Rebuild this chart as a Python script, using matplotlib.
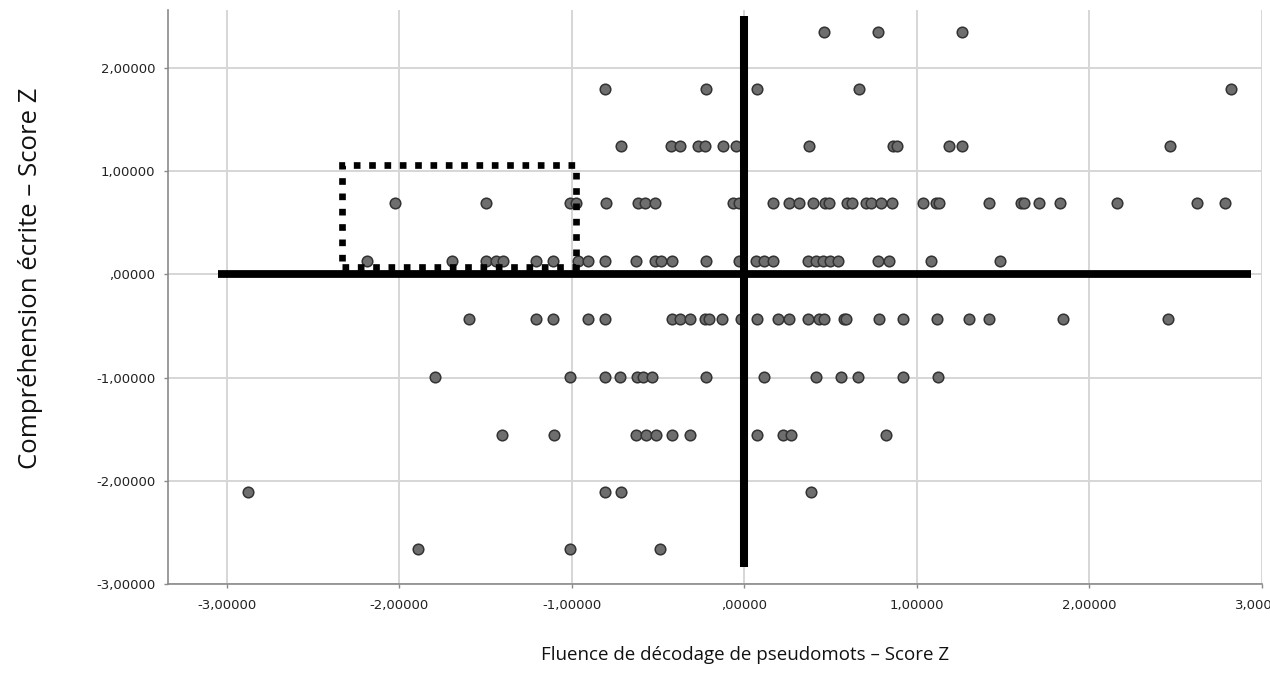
import matplotlib
matplotlib.use("Agg")
import matplotlib.pyplot as plt
from matplotlib.ticker import FuncFormatter
from matplotlib.patches import Rectangle

# Discrete levels of the written-comprehension Z score (y) and decoding fluency Z scores (x)
row_2_35 = [0.463, 0.772, 1.264]
row_1_79 = [-0.811, -0.224, 0.071, 0.662, 2.822]
row_1_24 = [-0.714, -0.424, -0.376, -0.270, -0.226, -0.126, -0.046, 0.376, 0.864,
            0.884, 1.187, 1.264, 2.465]
row_0_69 = [-2.025, -1.500, -1.013, -0.975, -0.801, -0.618, -0.579, -0.517, -0.068,
            -0.033, 0.164, 0.261, 0.314, 0.400, 0.469, 0.488, 0.592, 0.624, 0.705,
            0.734, 0.792, 0.855, 1.036, 1.110, 1.125, 1.415, 1.602, 1.621, 1.708,
            1.828, 2.162, 2.625, 2.785]
row_0_13 = [-2.187, -1.697, -1.500, -1.442, -1.400, -1.206, -1.110, -0.965, -0.907,
            -0.811, -0.627, -0.521, -0.486, -0.419, -0.222, -0.029, 0.068, 0.116,
            0.164, 0.367, 0.415, 0.457, 0.496, 0.540, 0.772, 0.840, 1.081, 1.481]
row_m0_43 = [-1.596, -1.206, -1.110, -0.907, -0.811, -0.419, -0.376, -0.318, -0.226,
             -0.203, -0.129, -0.017, 0.071, 0.193, 0.261, 0.367, 0.434, 0.463, 0.579,
             0.589, 0.782, 0.917, 1.119, 1.299, 1.415, 1.847, 2.457]
row_m0_99 = [-1.795, -1.009, -0.811, -0.720, -0.624, -0.589, -0.534, -0.222, 0.116,
             0.415, 0.560, 0.656, 0.917, 1.123]
row_m1_55 = [-1.403, -1.106, -0.627, -0.573, -0.515, -0.419, -0.318, 0.071, 0.226,
             0.270, 0.820]
row_m2_10 = [-2.876, -0.811, -0.714, 0.386]
row_m2_66 = [-1.892, -1.009, -0.488]

rows = [(2.347, row_2_35), (1.794, row_1_79), (1.241, row_1_24), (0.689, row_0_69),
        (0.126, row_0_13), (-0.436, row_m0_43), (-0.996, row_m0_99),
        (-1.552, row_m1_55), (-2.105, row_m2_10), (-2.658, row_m2_66)]

x_ticks = [-3, -2, -1, 0, 1, 2, 3]
y_ticks = [-3, -2, -1, 0, 1, 2]

# Reference lines and highlighted region (data coordinates)
hline_x = (-3.052, 2.936)
vline_y = (-2.839, 2.502)
box_x = (-2.335, -0.979)
box_y = (0.071, 1.064)

x_label = "Fluence de décodage de pseudomots – Score Z"
y_label = "Compréhension écrite – Score Z"

xs, ys = [], []
for yv, xv in rows:
    xs.extend(xv)
    ys.extend([yv] * len(xv))

fig = plt.figure(figsize=(12.70, 6.79), dpi=100)
ax = fig.add_axes([0.1323, 0.1399, 0.9937 - 0.1323, 0.9853 - 0.1399])

ax.set_xlim(-3.341, 2.995)
ax.set_ylim(-3.0, 2.561)
ax.set_xticks(x_ticks)
ax.set_yticks(y_ticks)

def fmt(v, pos):
    s = f"{v:.5f}".replace(".", ",")
    if s.startswith("0,"):
        s = s[1:]
    if s.startswith("-0,"):
        s = s[2:]
    return s

ax.xaxis.set_major_formatter(FuncFormatter(fmt))
ax.yaxis.set_major_formatter(FuncFormatter(fmt))

ax.grid(True, color="#d6d6d6", linewidth=1.4, zorder=0)
ax.set_axisbelow(True)
for side in ("top", "right"):
    ax.spines[side].set_visible(False)
for side in ("left", "bottom"):
    ax.spines[side].set_color("#8a8a8a")
    ax.spines[side].set_linewidth(1.2)
ax.tick_params(axis="both", colors="#8a8a8a", length=3, width=1,
               labelcolor="#222222", labelsize=9.5)
ax.tick_params(axis="x", pad=8)
ax.tick_params(axis="y", pad=6)

ax.scatter(xs, ys, s=58, facecolor="#6e6e6e", edgecolor="#333333",
           linewidth=1.1, zorder=3, clip_on=False)

ax.plot(hline_x, [0, 0], color="black", linewidth=5.6, solid_capstyle="butt", zorder=4)
ax.plot([0, 0], vline_y, color="black", linewidth=5.8, solid_capstyle="butt", zorder=4)

rect = Rectangle((box_x[0], box_y[0]), box_x[1] - box_x[0], box_y[1] - box_y[0],
                 fill=False, edgecolor="black", linewidth=4.8,
                 linestyle=(0, (1.0, 1.3)), zorder=5)
rect.set_capstyle("butt")
ax.add_patch(rect)

fig.text(0.5866, 0.035, x_label, ha="center", va="center", fontsize=13.5,
         family=["Open Sans", "DejaVu Sans"], color="#111111")
fig.text(0.024, 0.59, y_label, ha="center", va="center", rotation=90, fontsize=18.5,
         family=["Open Sans", "DejaVu Sans"], color="#111111")

fig.savefig("out.png", dpi=100)
